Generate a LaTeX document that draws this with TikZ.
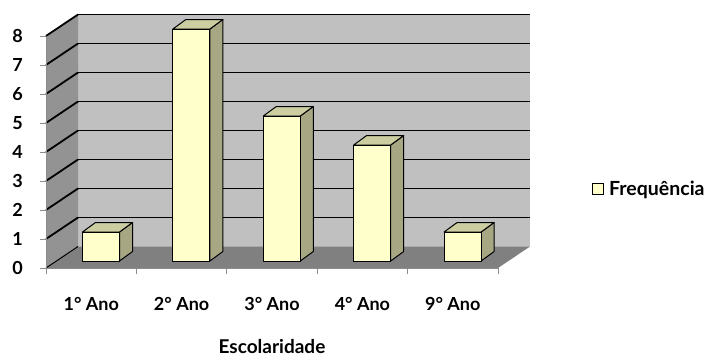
\documentclass[tikz,border=0pt]{standalone}
\usepackage{fontspec}
\setmainfont{Lato}
\begin{document}
\begin{tikzpicture}[x=1pt,y=-1pt,
  lbl/.style={font=\fontsize{18}{20}\selectfont\bfseries, inner sep=0pt},
  grid/.style={black, line width=1.8pt},
  axis/.style={color=gray!90, line width=1pt},
  barfront/.style={fill=barF, draw=black, line width=1pt, line join=round},
  bartop/.style={fill=barT, draw=black, line width=1pt, line join=round},
  barside/.style={fill=barS, draw=black, line width=1pt, line join=round}]
\definecolor{backw}{HTML}{C0C0C0}
\definecolor{leftw}{HTML}{939393}
\definecolor{floorc}{HTML}{808080}
\definecolor{barF}{HTML}{FFFFCC}
\definecolor{barT}{HTML}{CDCDA2}
\definecolor{barS}{HTML}{A7A783}
\useasboundingbox (0,0) rectangle (708,356);
% walls
\fill[backw] (78,14) rectangle (530,246.5);
\fill[leftw] (46,268) -- (46,37) -- (78,14.5) -- (78,246.5) -- cycle;
\fill[floorc] (46,268) -- (78,246.5) -- (530,246.5) -- (498,268) -- cycle;
% gridlines
\foreach \k in {1,...,8} {
  \draw[grid] (78,246.5-29*\k) -- (530,246.5-29*\k);
  \draw[grid] (46,268-29*\k) -- (78,246.5-29*\k);
}
\draw[grid, line width=1pt] (46,268) -- (78,246.5);
% axes
\draw[axis] (46,37) -- (46,268) -- (498,268);
\foreach \k in {0,...,8} {
  \draw[axis] (40,268-29*\k) -- (46,268-29*\k);
  \node[lbl, anchor=east] (y\k) at (23,268-29*\k) {\k};
}
\foreach \i in {0,...,5} {
  \draw[axis] (46+90.4*\i,268) -- (46+90.4*\i,274);
}
% bars
\foreach \i/\v/\n in {0/1/1,1/8/2,2/5/3,3/4/4,4/1/9} {
  \pgfmathsetmacro{\xl}{82.5+90.4*\i}
  \pgfmathsetmacro{\xr}{\xl+37}
  \pgfmathsetmacro{\yt}{261-29*\v}
  \draw[barside] (\xr,261) -- (\xr,\yt) -- (\xr+13,\yt-9.5) -- (\xr+13,251.5) -- cycle;
  \draw[bartop] (\xl,\yt) -- (\xr,\yt) -- (\xr+13,\yt-9.5) -- (\xl+13,\yt-9.5) -- cycle;
  \draw[barfront] (\xl,261) rectangle (\xr,\yt);
  \node[lbl, anchor=base] (c\i) at (91.2+90.4*\i,310) {\n° Ano};
}
\node[lbl, anchor=base, font=\fontsize{19}{21}\selectfont\bfseries] (xt) at (272,353) {Escolaridade};
% legend
\draw[fill=barF, draw=black, line width=0.8pt] (592.5,183.5) rectangle (603.5,194.5);
\node[lbl, anchor=base west, font=\fontsize{19.5}{21}\selectfont\bfseries] (leg) at (609,195) {Frequência};
\end{tikzpicture}
\end{document}
